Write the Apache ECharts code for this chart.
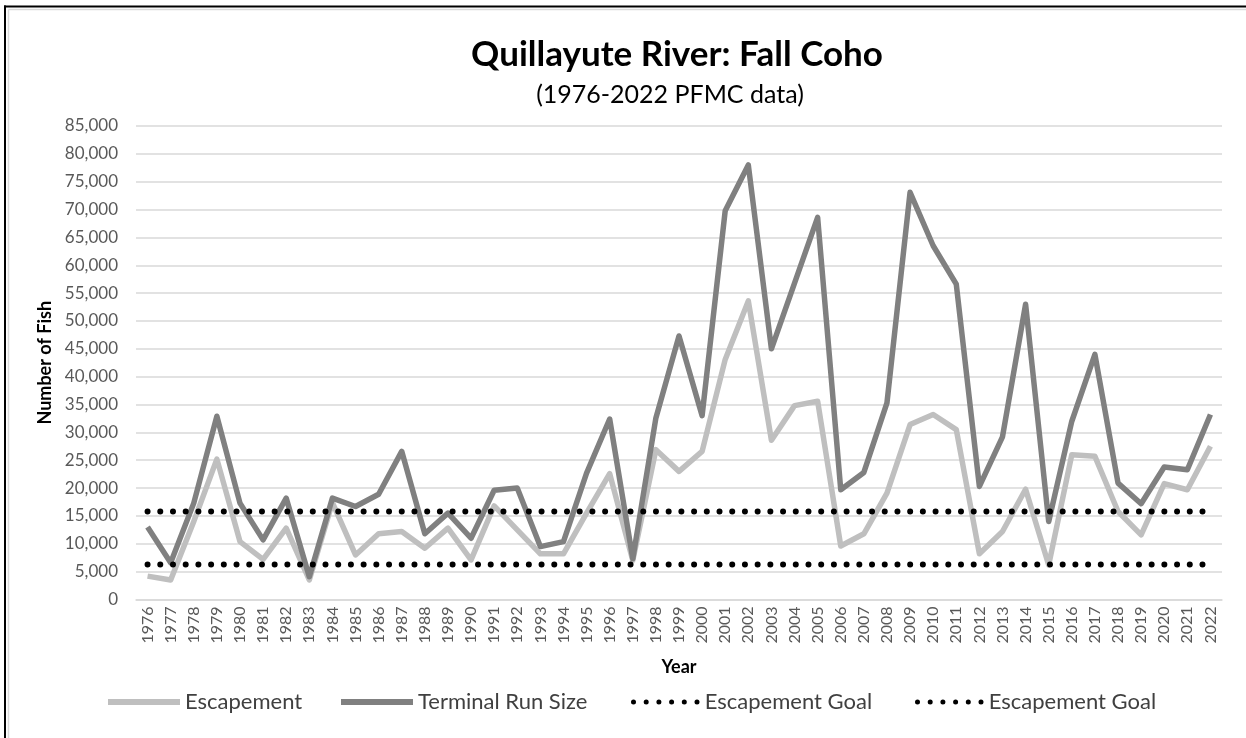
<!DOCTYPE html>
<html>
<head>
<meta charset="utf-8">
<script src="https://cdn.jsdelivr.net/npm/echarts@6/dist/echarts.min.js"></script>
<style>
html,body{margin:0;padding:0;background:#fff;}
#chart{width:1246px;height:738px;}
</style>
</head>
<body>
<div id="chart"></div>
<script>
const years = ['1976','1977','1978','1979','1980','1981','1982','1983','1984','1985','1986','1987','1988','1989','1990','1991','1992','1993','1994','1995','1996','1997','1998','1999','2000','2001','2002','2003','2004','2005','2006','2007','2008','2009','2010','2011','2012','2013','2014','2015','2016','2017','2018','2019','2020','2021','2022'];
const escapement = [4200,3500,14000,25200,10400,7200,12800,3500,17400,8000,11800,12200,9200,12800,7100,16800,12500,8200,8200,15500,22600,7000,26900,23000,26600,43100,53600,28600,34800,35600,9600,11800,19100,31400,33200,30500,8200,12200,19800,6200,26000,25700,15800,11600,20800,19700,27500];
const terminalRun = [13000,6600,17300,32900,17300,10700,18200,4100,18200,16700,18900,26600,11800,15500,11000,19600,20000,9500,10400,22700,32400,7300,32600,47300,33000,69800,78000,45000,56800,68600,19700,22800,35300,73100,63500,56600,20300,29200,53000,14000,32000,44000,20900,17200,23800,23300,33200];
const goalLow = [6300,6300,6300,6300,6300,6300,6300,6300,6300,6300,6300,6300,6300,6300,6300,6300,6300,6300,6300,6300,6300,6300,6300,6300,6300,6300,6300,6300,6300,6300,6300,6300,6300,6300,6300,6300,6300,6300,6300,6300,6300,6300,6300,6300,6300,6300,6300];
const goalHigh = [15800,15800,15800,15800,15800,15800,15800,15800,15800,15800,15800,15800,15800,15800,15800,15800,15800,15800,15800,15800,15800,15800,15800,15800,15800,15800,15800,15800,15800,15800,15800,15800,15800,15800,15800,15800,15800,15800,15800,15800,15800,15800,15800,15800,15800,15800,15800];

const FONT = 'Lato, "Open Sans", sans-serif';
const chart = echarts.init(document.getElementById('chart'), null, {renderer: 'canvas'});
const legendText = {fontFamily: FONT, fontSize: 22, color: '#404040'};
const dotIcon = 'path://M0,2.5a2.5,2.5 0 1,0 5,0a2.5,2.5 0 1,0 -5,0z' +
  'M12.7,2.5a2.5,2.5 0 1,0 5,0a2.5,2.5 0 1,0 -5,0z' +
  'M25.4,2.5a2.5,2.5 0 1,0 5,0a2.5,2.5 0 1,0 -5,0z' +
  'M38.1,2.5a2.5,2.5 0 1,0 5,0a2.5,2.5 0 1,0 -5,0z' +
  'M50.8,2.5a2.5,2.5 0 1,0 5,0a2.5,2.5 0 1,0 -5,0z' +
  'M63.5,2.5a2.5,2.5 0 1,0 5,0a2.5,2.5 0 1,0 -5,0z';
const mkLegend = (name, left, icon, w, h) => ({
  data: [{name: name, icon: icon}], left: left, top: 691, padding: 0,
  itemWidth: w, itemHeight: h, itemGap: 6,
  textStyle: legendText,
  formatter: () => name.indexOf('Escapement Goal') === 0 ? 'Escapement Goal' : name
});
const dotted = {color: '#000', width: 6, type: [0.01, 12.7], cap: 'round'};
chart.setOption({
  animation: false,
  backgroundColor: '#fff',
  title: [
    {text: 'Quillayute River: Fall Coho', left: 672, top: 32, textAlign: 'center',
     textStyle: {fontFamily: FONT, fontSize: 35, fontWeight: 'bold', color: '#000'}},
    {text: '(1976-2022 PFMC data)', left: 665, top: 77, textAlign: 'center',
     textStyle: {fontFamily: FONT, fontSize: 25, fontWeight: 'normal', color: '#000'}}
  ],
  legend: [
    mkLegend('Escapement', 108, 'rect', 72, 6),
    mkLegend('Terminal Run Size', 341, 'rect', 72, 6),
    mkLegend('Escapement Goal (low)', 631, dotIcon, 69, 5),
    mkLegend('Escapement Goal (high)', 915, dotIcon, 69, 5)
  ],
  grid: {left: 136, right: 24, top: 126, bottom: 138.5, containLabel: false},
  xAxis: {
    type: 'category', data: years, boundaryGap: true,
    name: 'Year', nameLocation: 'middle', nameGap: 59,
    nameTextStyle: {fontFamily: FONT, fontSize: 18, fontWeight: 'bold', color: '#000'},
    axisLine: {show: true, lineStyle: {color: '#d9d9d9', width: 1.5}},
    axisTick: {show: false},
    axisLabel: {rotate: 90, interval: 0, margin: 7, fontFamily: FONT, fontSize: 16, color: '#595959'}
  },
  yAxis: {
    type: 'value', min: 0, max: 85000, interval: 5000,
    name: 'Number of Fish', nameLocation: 'middle', nameGap: 82, nameRotate: 90,
    nameTextStyle: {fontFamily: FONT, fontSize: 18, fontWeight: 'bold', color: '#000'},
    axisLine: {show: false}, axisTick: {show: false},
    splitLine: {lineStyle: {color: '#d9d9d9', width: 1.5}},
    axisLabel: {margin: 18, fontFamily: FONT, fontSize: 17, color: '#595959',
      formatter: v => v.toLocaleString('en-US')}
  },
  series: [
    {name: 'Escapement', type: 'line', data: escapement, symbol: 'none',
     lineStyle: {color: '#bfbfbf', width: 5.5, join: 'round'}, itemStyle: {color: '#bfbfbf'}},
    {name: 'Terminal Run Size', type: 'line', data: terminalRun, symbol: 'none',
     lineStyle: {color: '#808080', width: 5.5, join: 'round'}, itemStyle: {color: '#808080'}},
    {name: 'Escapement Goal (low)', type: 'line', data: goalLow, symbol: 'none',
     lineStyle: dotted, itemStyle: {color: '#000'}},
    {name: 'Escapement Goal (high)', type: 'line', data: goalHigh, symbol: 'none',
     lineStyle: dotted, itemStyle: {color: '#000'}}
  ],
  graphic: [
    {type: 'line', shape: {x1: 8.5, y1: 9.5, x2: 1246, y2: 9.5}, style: {stroke: '#d9d9d9', lineWidth: 1.5}},
    {type: 'line', shape: {x1: 8.5, y1: 9.5, x2: 8.5, y2: 738}, style: {stroke: '#d9d9d9', lineWidth: 1.5}},
    {type: 'line', shape: {x1: 4, y1: 6.5, x2: 1246, y2: 6.5}, style: {stroke: '#000', lineWidth: 2}},
    {type: 'line', shape: {x1: 5, y1: 5.5, x2: 5, y2: 738}, style: {stroke: '#000', lineWidth: 2}}
  ]
});
</script>
</body>
</html>
